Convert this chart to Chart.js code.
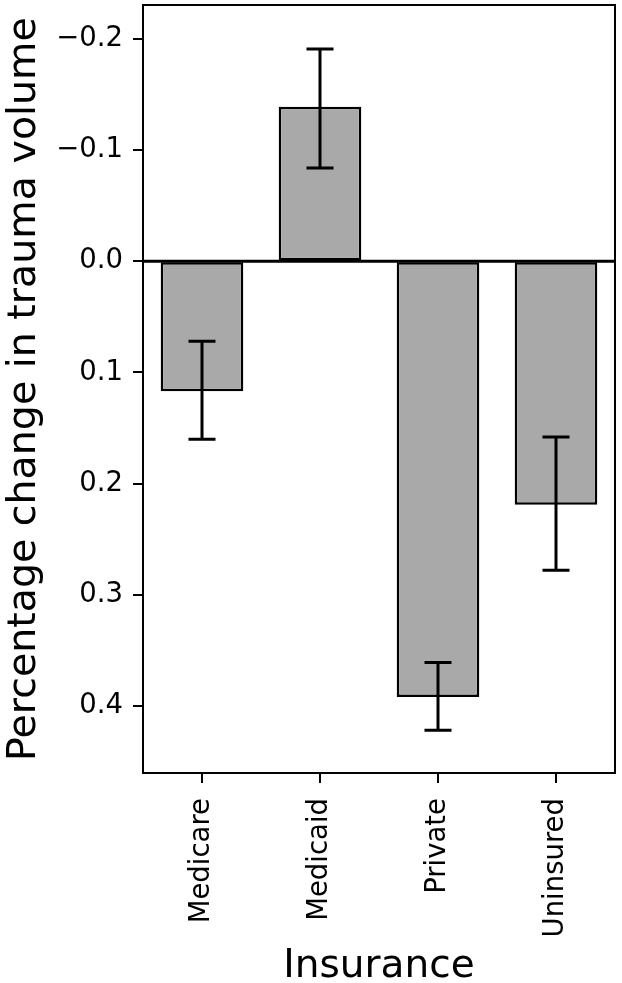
<!DOCTYPE html>
<html>
<head>
<meta charset="utf-8">
<script src="https://cdn.jsdelivr.net/npm/chart.js@4/dist/chart.umd.min.js"></script>
<style>
  html, body { margin: 0; padding: 0; background: #fff; }
  #wrap { width: 622px; height: 983px; position: relative; }
</style>
</head>
<body>
<div id="wrap"><canvas id="chart" width="622" height="983"></canvas></div>
<script>
  // categories + values (y axis is inverted)
  const categories = ["Medicare", "Medicaid", "Private", "Uninsured"];
  const changeValues = [0.117, -0.139, 0.392, 0.219];
  const errLow = [0.072, -0.191, 0.361, 0.158];
  const errHigh = [0.160, -0.084, 0.422, 0.278];
  const yTicks = [-0.2, -0.1, 0.0, 0.1, 0.2, 0.3, 0.4];

  const FONT = "'DejaVu Sans', sans-serif";

  // frame, zero line and error bars
  const extras = {
    id: "extras",
    afterDatasetsDraw(chart) {
      const { ctx, chartArea: a, scales } = chart;
      const y = scales.y;
      const meta = chart.getDatasetMeta(0);
      ctx.save();
      ctx.strokeStyle = "#000";
      ctx.lineCap = "butt";

      // zero line
      ctx.lineWidth = 3;
      const y0 = y.getPixelForValue(0);
      ctx.beginPath();
      ctx.moveTo(a.left, y0);
      ctx.lineTo(a.right, y0);
      ctx.stroke();

      // error bars
      ctx.lineWidth = 3;
      meta.data.forEach((bar, i) => {
        const cx = bar.x;
        const yl = y.getPixelForValue(errLow[i]);
        const yh = y.getPixelForValue(errHigh[i]);
        ctx.beginPath();
        ctx.moveTo(cx, yl); ctx.lineTo(cx, yh);
        ctx.moveTo(cx - 13.5, yl); ctx.lineTo(cx + 13.5, yl);
        ctx.moveTo(cx - 13.5, yh); ctx.lineTo(cx + 13.5, yh);
        ctx.stroke();
      });

      // box around the axes
      ctx.lineWidth = 2;
      ctx.strokeRect(a.left, a.top, a.right - a.left, a.bottom - a.top);
      ctx.restore();
    }
  };

  const noEdgePad = (s) => {
    s.paddingTop = 0; s.paddingBottom = 0;
    s.paddingLeft = 0; s.paddingRight = 0;
  };

  new Chart(document.getElementById("chart"), {
    type: "bar",
    data: {
      labels: categories,
      datasets: [{
        data: changeValues,
        backgroundColor: "#a9a9a9",
        borderColor: "#000",
        borderWidth: 2.5,
        borderSkipped: false,
        barPercentage: 0.7,
        categoryPercentage: 1.0,
      }],
    },
    options: {
      responsive: false,
      animation: false,
      events: [],
      layout: { padding: { top: 5, right: 7, left: 0, bottom: 0 } },
      plugins: { legend: { display: false }, tooltip: { enabled: false } },
      scales: {
        x: {
          afterFit: (s) => { s.height = 210; noEdgePad(s); },
          grid: { offset: false, drawOnChartArea: false, drawTicks: true, tickLength: 10, color: "#000", lineWidth: 2 },
          border: { display: true, color: "#000", width: 2 },
          ticks: {
            color: "#000", minRotation: 90, maxRotation: 90, padding: 15,
            font: { family: FONT, size: 27.5 },
          },
          title: {
            display: true, text: "Insurance", color: "#000",
            font: { family: FONT, size: 39, lineHeight: 1.0 }, padding: { top: 0, bottom: -3 },
          },
        },
        y: {
          reverse: true,
          min: -0.2306,
          max: 0.4604,
          afterFit: (s) => { s.width = 143; noEdgePad(s); },
          afterBuildTicks: (s) => { s.ticks = yTicks.map((v) => ({ value: v })); },
          grid: { drawOnChartArea: false, drawTicks: true, tickLength: 10, color: "#000", lineWidth: 2 },
          border: { display: true, color: "#000", width: 2 },
          ticks: {
            color: "#000", padding: 10,
            font: { family: FONT, size: 27.5 },
            callback: (v) => Number(v).toFixed(1).replace("-", "\u2212"),
          },
          title: {
            display: true, text: "Percentage change in trauma volume", color: "#000",
            font: { family: FONT, size: 39.5, lineHeight: 1.0 }, padding: { top: 5, bottom: 0 },
          },
        },
      },
    },
    plugins: [extras],
  });
</script>
</body>
</html>
